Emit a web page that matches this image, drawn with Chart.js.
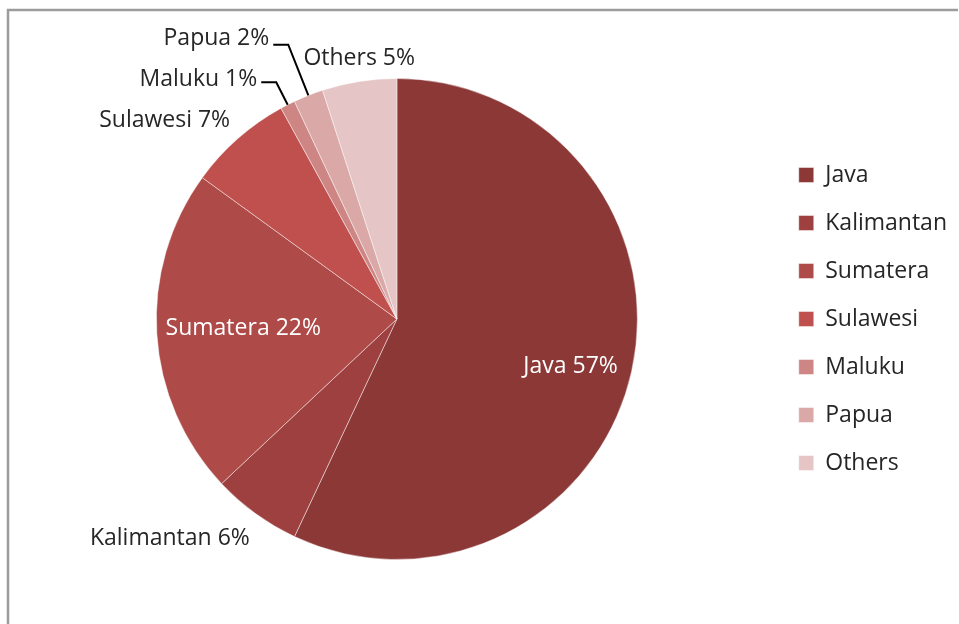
<!DOCTYPE html>
<html>
<head>
<meta charset="utf-8">
<script src="https://cdn.jsdelivr.net/npm/chart.js@4/dist/chart.umd.min.js"></script>
<style>
  html, body { margin: 0; padding: 0; background: #fff; }
  #wrap { position: relative; width: 959px; height: 624px; }
</style>
</head>
<body>
<div id="wrap"><canvas id="islands" width="959" height="624"></canvas></div>
<script>
const islands = ["Java", "Kalimantan", "Sumatera", "Sulawesi", "Maluku", "Papua", "Others"];
const shares = [57, 6, 22, 7, 1, 2, 5];
const sliceColors = ["#8B3837", "#9E403F", "#AE4A48", "#C0504D", "#CD8684", "#D9A8A7", "#E5C5C5"];

const FONT = "'Open Sans', sans-serif";
const FONT_SIZE = 23;
const TEXT_COLOR = "#262626";

// where each data label goes: k = distance from centre as a fraction of the radius
// inside labels are white and centred, outside ones hang off the slice edge
const labelPlacement = [
  { k: 0.74, align: "center", inside: true, dy: 9 },
  { k: 1.09, align: "right", dx: 7, dy: 7 },
  { k: 0.64, align: "center", inside: true },
  { k: 1.08, align: "right", dx: 5, dy: -4 },
  { k: 1.105, align: "right", leader: true, dy: -3 },
  { k: 1.227, align: "right", leader: true, dy: -6 },
  { k: 1.108, align: "center", dx: 4, dy: 3 }
];

const frame = {
  id: "frame",
  beforeDraw(chart) {
    const ctx = chart.ctx;
    ctx.save();
    ctx.strokeStyle = "#9c9c9c";
    ctx.lineWidth = 2.5;
    ctx.beginPath();
    ctx.moveTo(8, chart.height + 5);
    ctx.lineTo(8, 10);
    ctx.lineTo(chart.width - 1, 10);
    ctx.stroke();
    ctx.restore();
  }
};

const sliceLabels = {
  id: "sliceLabels",
  afterDatasetsDraw(chart) {
    const ctx = chart.ctx;
    const arcs = chart.getDatasetMeta(0).data;
    ctx.save();
    ctx.font = FONT_SIZE + "px " + FONT;
    ctx.textBaseline = "middle";
    arcs.forEach(function(arc, i) {
      const p = labelPlacement[i];
      const mid = (arc.startAngle + arc.endAngle) / 2;
      const r = arc.outerRadius;
      const x = arc.x + Math.cos(mid) * r * p.k;
      const y = arc.y + Math.sin(mid) * r * p.k;
      const text = islands[i] + " " + shares[i] + "%";
      ctx.fillStyle = p.inside ? "#fff" : TEXT_COLOR;
      if (p.leader) {
        // radial line from the slice edge, then a short horizontal run
        const ex = arc.x + Math.cos(mid) * r;
        const ey = arc.y + Math.sin(mid) * r;
        ctx.strokeStyle = "#000";
        ctx.lineWidth = 2;
        ctx.beginPath();
        ctx.moveTo(ex, ey);
        ctx.lineTo(x, y);
        ctx.lineTo(x - 15, y);
        ctx.stroke();
        ctx.textAlign = "right";
        ctx.fillText(text, x - 19, y + (p.dy || 0));
      } else {
        ctx.textAlign = p.align;
        ctx.fillText(text, x + (p.dx || 0), y + (p.dy || 0));
      }
    });
    ctx.restore();
  }
};

new Chart(document.getElementById("islands").getContext("2d"), {
  type: "pie",
  data: {
    labels: islands,
    datasets: [{
      data: shares,
      backgroundColor: sliceColors,
      borderColor: "rgba(255,255,255,0.45)",
      borderWidth: 1
    }]
  },
  options: {
    responsive: false,
    animation: false,
    layout: {
      padding: { top: 78, bottom: 64, left: 20, right: 2 }
    },
    plugins: {
      tooltip: { enabled: false },
      legend: {
        position: "right",
        align: "center",
        labels: {
          color: TEXT_COLOR,
          font: { family: FONT, size: FONT_SIZE },
          boxWidth: 15,
          boxHeight: 15,
          padding: 25
        }
      }
    }
  },
  plugins: [frame, sliceLabels]
});
</script>
</body>
</html>
